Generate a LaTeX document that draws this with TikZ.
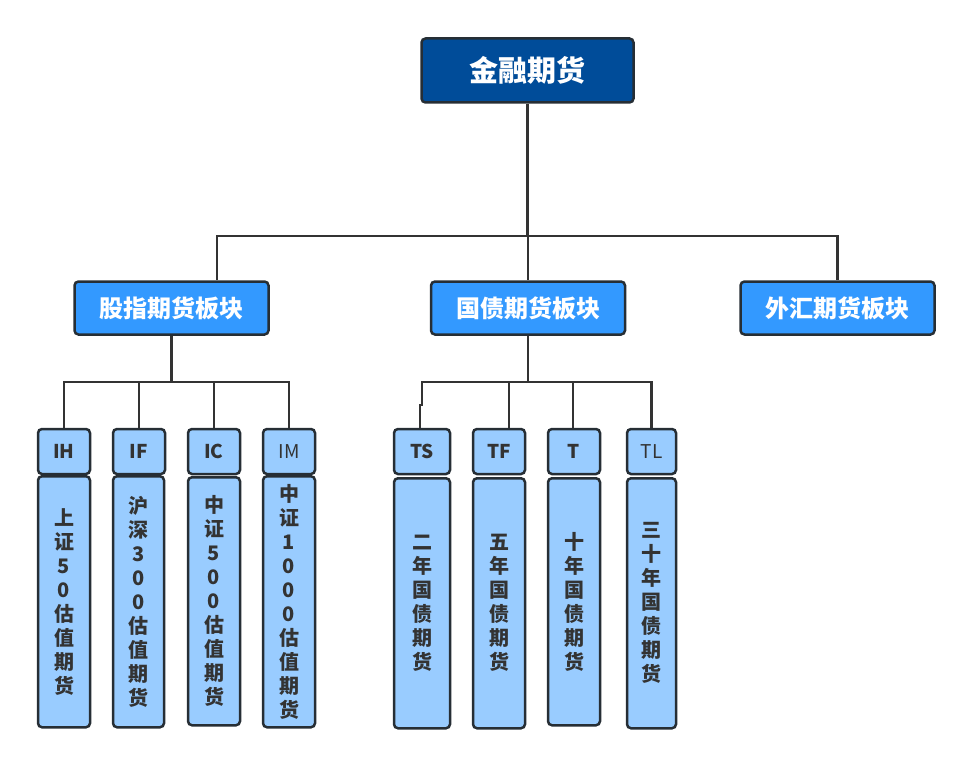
\documentclass[tikz,border=0pt]{standalone}
\usepackage{fontspec}
\newfontfamily\cjk{Noto Sans CJK SC}
\definecolor{rootc}{HTML}{004C99}
\definecolor{midc}{HTML}{3399FF}
\definecolor{leafc}{HTML}{99CCFF}
\definecolor{bord}{HTML}{262E35}
\definecolor{linec}{HTML}{333333}
\definecolor{txt}{HTML}{333333}
\tikzset{
  box/.style={draw=bord, line width=2.5pt, rounded corners=4pt, inner sep=0pt, align=center},
  rootbox/.style={box, fill=rootc, text=white, font=\cjk\bfseries\fontsize{29}{32}\selectfont, minimum width=212pt, minimum height=64pt},
  midbox/.style={box, fill=midc, text=white, font=\cjk\bfseries\fontsize{24}{26}\selectfont, minimum width=194pt, minimum height=53pt},
  leaftop/.style={box, fill=leafc, text=txt, font=\cjk\bfseries\fontsize{19}{22}\selectfont, minimum height=45pt},
  leaftopr/.style={box, fill=leafc, text=txt, font=\cjk\fontsize{19}{22}\selectfont, minimum height=45pt},
  leafbot/.style={box, fill=leafc, text=txt, font=\cjk\bfseries\fontsize{20}{24}\selectfont, anchor=north},
  conn/.style={draw=linec, line width=2.3pt}
}
\begin{document}
\begin{tikzpicture}[x=1pt,y=-1pt]
\useasboundingbox (0,0) rectangle (973,765);
% root and middle
\node[rootbox] (root) at (527.5,70.5) {金融期货};
\node[midbox] (gz) at (171.5,308) {股指期货板块};
\node[midbox] (gy) at (528,308) {国债期货板块};
\node[midbox] (wh) at (837.5,308) {外汇期货板块};
% left leaves (lower parts)
\node[leafbot, minimum width=52pt, minimum height=251pt] (IHb) at (64,475) {上\\证\\5\\0\\估\\值\\期\\货};
\node[leafbot, minimum width=51pt, minimum height=251pt] (IFb) at (138.5,475) {沪\\深\\3\\0\\0\\估\\值\\期\\货};
\node[leafbot, minimum width=52pt, minimum height=248pt] (ICb) at (214,476) {中\\证\\5\\0\\0\\估\\值\\期\\货};
\node[leafbot, minimum width=52pt, minimum height=251pt] (IMb) at (289,475) {中\\证\\1\\0\\0\\0\\估\\值\\期\\货};
% right leaves (lower parts)
\node[leafbot, minimum width=56pt, minimum height=250pt] (TSb) at (422,477) {二\\年\\国\\债\\期\\货};
\node[leafbot, minimum width=52pt, minimum height=250pt] (TFb) at (499,477) {五\\年\\国\\债\\期\\货};
\node[leafbot, minimum width=52pt, minimum height=247pt] (Tb) at (574,477) {十\\年\\国\\债\\期\\货};
\node[leafbot, minimum width=49pt, minimum height=250pt] (TLb) at (651.5,477) {三\\十\\年\\国\\债\\期\\货};
% leaf tops
\node[leaftop, minimum width=52pt] (IH) at (64,451.5) {IH};
\node[leaftop, minimum width=52pt] (IF) at (139,451.5) {IF};
\node[leaftop, minimum width=52pt] (IC) at (214,451.5) {IC};
\node[leaftopr, minimum width=52pt] (IM) at (289,451.5) {IM};
\node[leaftop, minimum width=56pt] (TS) at (422,451.5) {TS};
\node[leaftop, minimum width=52pt] (TF) at (499,451.5) {TF};
\node[leaftop, minimum width=52pt] (T) at (574,451.5) {T};
\node[leaftopr, minimum width=49pt] (TL) at (651.5,451.5) {TL};
% hubs
\coordinate (hub) at (527.5,236);
\coordinate (hubl) at (171.5,382);
\coordinate (hubr) at (528,382);
\coordinate (tsj) at (422,405);
\coordinate (tsk) at (420,405);
% connectors
\draw[conn] (root.south) -- (hub);
\draw[conn] (hub) -| ([xshift=45.5pt]gz.north);
\draw[conn] (hub) -| (wh.north);
\draw[conn] (hub) -| (gy.north);
\draw[conn] (gz.south) -- (hubl);
\draw[conn] (hubl) -| (IH.north);
\draw[conn] (hubl) -| (IF.north);
\draw[conn] (hubl) -| (IC.north);
\draw[conn] (hubl) -| (IM.north);
\draw[conn] (gy.south) -- (hubr);
\draw[conn] (hubr) -| (tsj) -- (tsk) -- (tsk |- TS.north);
\draw[conn] (hubr) -| ([xshift=10pt]TF.north);
\draw[conn] (hubr) -| ([xshift=-1pt]T.north);
\draw[conn] (hubr) -| (TL.north);
\end{tikzpicture}
\end{document}
